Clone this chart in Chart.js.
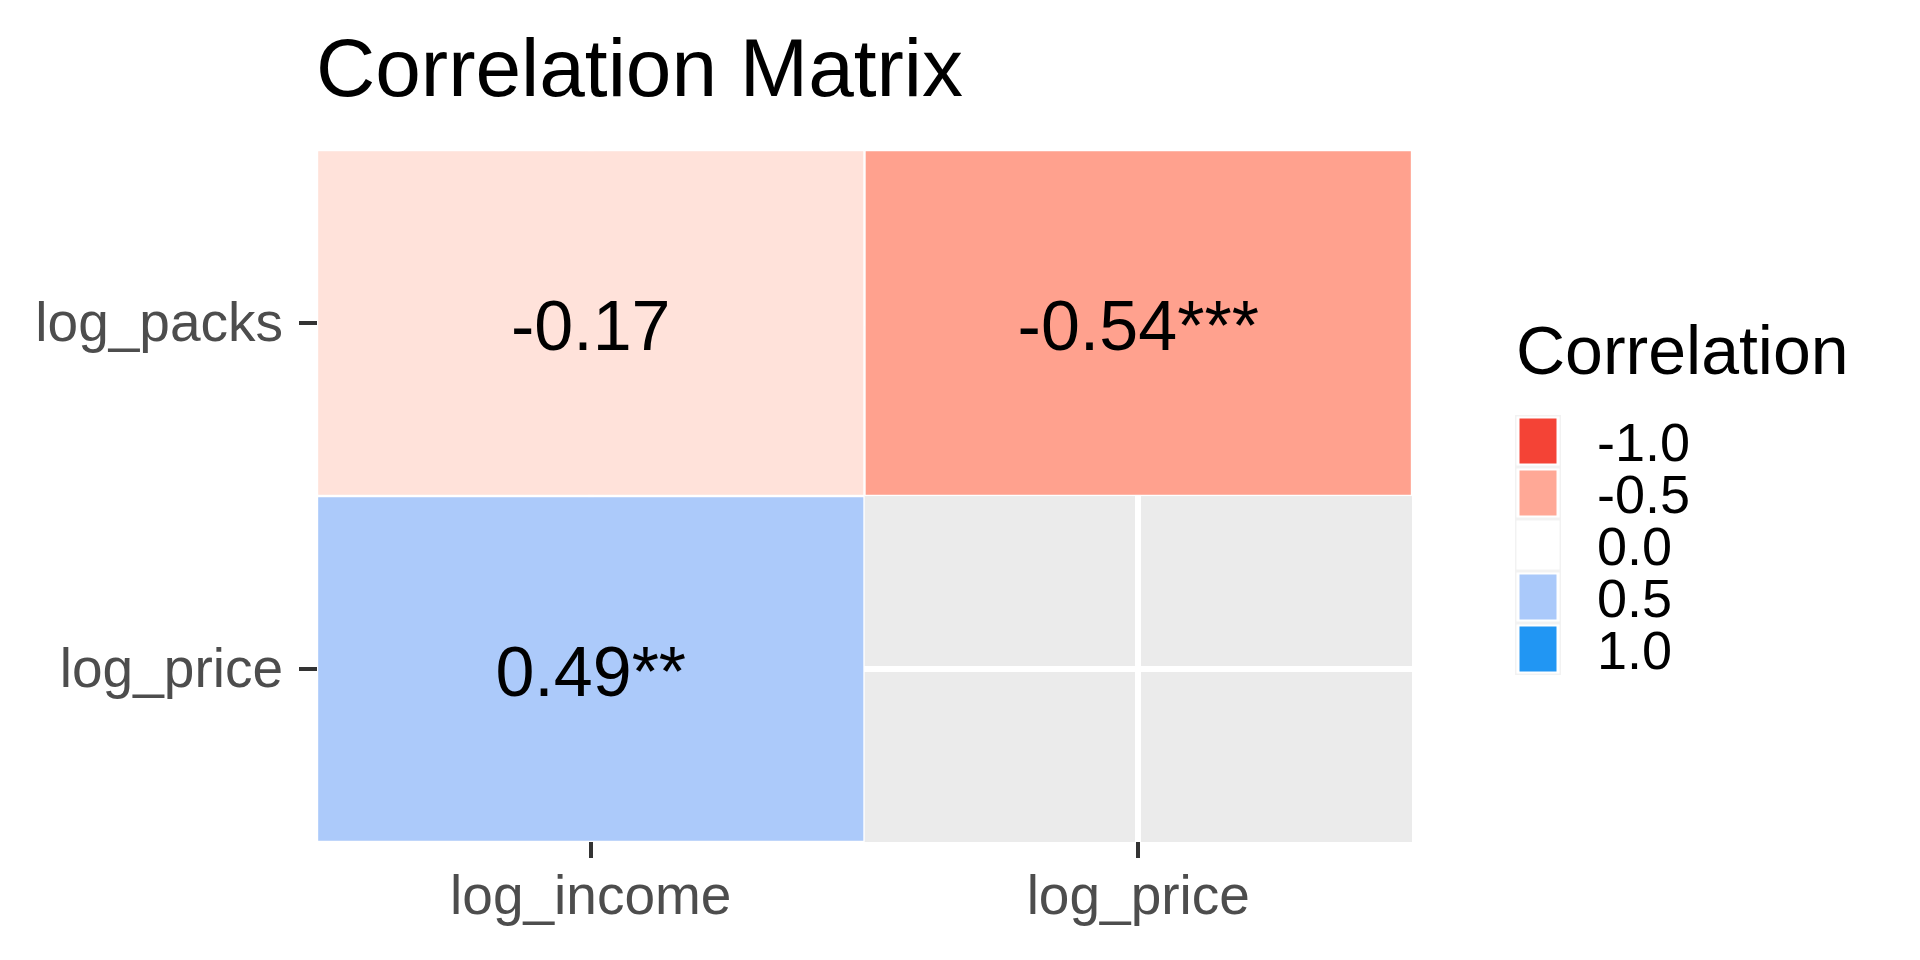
<!DOCTYPE html>
<html>
<head>
<meta charset="utf-8">
<title>Correlation Matrix</title>
<script src="https://cdn.jsdelivr.net/npm/chart.js@4.4.1/dist/chart.umd.min.js"></script>
<style>
  html, body { margin: 0; padding: 0; background: #ffffff; }
  #wrap { width: 1920px; height: 960px; position: relative; }
</style>
</head>
<body>
<div id="wrap"><canvas id="myChart"></canvas></div>
<script>
// columns of the matrix, rows from top to bottom
var colNames = ['log_income', 'log_price'];
var rowNames = ['log_packs', 'log_price'];
// correlation values per row (null = empty cell)
var corrByRow = [
  [-0.17, -0.54],
  [0.49, null]
];
var starsByRow = [
  ['', '***'],
  ['**', '']
];
var legendBreaks = [-1.0, -0.5, 0.0, 0.5, 1.0];

var lowColor = '#F44336';
var midColor = '#FFFFFF';
var highColor = '#2196F3';
var FONT = '"Liberation Sans", Arial, sans-serif';

// --- colour scale, interpolated in Lab like ggplot's gradient2 ---
function hexToRgb(h) {
  return [parseInt(h.slice(1, 3), 16), parseInt(h.slice(3, 5), 16), parseInt(h.slice(5, 7), 16)];
}
function toLin(c) {
  c = c / 255;
  return c <= 0.04045 ? c / 12.92 : Math.pow((c + 0.055) / 1.055, 2.4);
}
function fromLin(c) {
  c = c <= 0.0031308 ? 12.92 * c : 1.055 * Math.pow(c, 1 / 2.4) - 0.055;
  return Math.round(Math.max(0, Math.min(1, c)) * 255);
}
function rgbToLab(rgb) {
  var r = toLin(rgb[0]), g = toLin(rgb[1]), b = toLin(rgb[2]);
  var x = (0.4124 * r + 0.3576 * g + 0.1805 * b) / 0.95047;
  var y = (0.2126 * r + 0.7152 * g + 0.0722 * b);
  var z = (0.0193 * r + 0.1192 * g + 0.9505 * b) / 1.08883;
  var f = function(t) { return t > 0.008856 ? Math.cbrt(t) : 7.787 * t + 16 / 116; };
  var fx = f(x), fy = f(y), fz = f(z);
  return [116 * fy - 16, 500 * (fx - fy), 200 * (fy - fz)];
}
function labToRgb(lab) {
  var fy = (lab[0] + 16) / 116, fx = fy + lab[1] / 500, fz = fy - lab[2] / 200;
  var finv = function(t) { var t3 = t * t * t; return t3 > 0.008856 ? t3 : (t - 16 / 116) / 7.787; };
  var x = finv(fx) * 0.95047, y = finv(fy), z = finv(fz) * 1.08883;
  var r = 3.2406 * x - 1.5372 * y - 0.4986 * z;
  var g = -0.9689 * x + 1.8758 * y + 0.0415 * z;
  var b = 0.0557 * x - 0.2040 * y + 1.0570 * z;
  return [fromLin(r), fromLin(g), fromLin(b)];
}
function fillFor(v) {
  var a = rgbToLab(hexToRgb(midColor));
  var b = rgbToLab(hexToRgb(v < 0 ? lowColor : highColor));
  var t = Math.min(1, Math.abs(v));
  var lab = [a[0] + (b[0] - a[0]) * t, a[1] + (b[1] - a[1]) * t, a[2] + (b[2] - a[2]) * t];
  var rgb = labToRgb(lab);
  return 'rgb(' + rgb[0] + ',' + rgb[1] + ',' + rgb[2] + ')';
}

// one dataset per row, each bar spans its row band on the y scale
var datasets = [];
for (var r = 0; r < rowNames.length; r++) {
  var lo = rowNames.length - 1 - r;
  var cells = [], fills = [], texts = [];
  for (var c = 0; c < colNames.length; c++) {
    var v = corrByRow[r][c];
    cells.push(v === null ? null : [lo, lo + 1]);
    fills.push(v === null ? 'rgba(0,0,0,0)' : fillFor(v));
    texts.push(v === null ? '' : v.toFixed(2) + starsByRow[r][c]);
  }
  datasets.push({
    label: rowNames[r],
    data: cells,
    cellTexts: texts,
    backgroundColor: fills,
    borderColor: '#ffffff',
    borderWidth: 1.5,
    borderSkipped: false,
    grouped: false,
    barPercentage: 1.0,
    categoryPercentage: 1.0
  });
}

var panelPlugin = {
  id: 'panel',
  beforeDraw: function(chart) {
    var ctx = chart.ctx, a = chart.chartArea;
    ctx.save();
    ctx.fillStyle = '#ffffff';
    ctx.fillRect(0, 0, chart.width, chart.height);
    ctx.fillStyle = '#EBEBEB';
    ctx.fillRect(a.left, a.top, a.right - a.left, a.bottom - a.top);
    ctx.restore();
  }
};

var cellTextPlugin = {
  id: 'cellText',
  afterDatasetsDraw: function(chart) {
    var ctx = chart.ctx;
    ctx.save();
    ctx.font = '70px ' + FONT;
    ctx.fillStyle = '#000000';
    ctx.textAlign = 'center';
    ctx.textBaseline = 'alphabetic';
    chart.data.datasets.forEach(function(ds, i) {
      chart.getDatasetMeta(i).data.forEach(function(bar, j) {
        if (!ds.cellTexts[j]) return;
        var p = bar.getProps(['x', 'y', 'base'], true);
        var cy = (p.y + p.base) / 2;
        ctx.fillText(ds.cellTexts[j], p.x, cy + 27);
      });
    });
    ctx.restore();
  }
};

var titleLegendPlugin = {
  id: 'titleLegend',
  afterDraw: function(chart) {
    var ctx = chart.ctx;
    ctx.save();
    ctx.fillStyle = '#000000';
    ctx.textAlign = 'left';
    ctx.textBaseline = 'alphabetic';
    ctx.font = '82px ' + FONT;
    ctx.fillText('Correlation Matrix', 316, 96);

    // colour legend
    ctx.font = '68px ' + FONT;
    ctx.fillText('Correlation', 1516, 374);
    var kx = 1515, ky = 415, kw = 46, kh = 52;
    ctx.font = '54px ' + FONT;
    for (var i = 0; i < legendBreaks.length; i++) {
      var y = ky + i * kh;
      ctx.fillStyle = '#F2F2F2';
      ctx.fillRect(kx, y, kw, kh);
      ctx.fillStyle = '#ffffff';
      ctx.fillRect(kx + 1.5, y + 1.5, kw - 3, kh - 3);
      ctx.fillStyle = fillFor(legendBreaks[i]);
      ctx.fillRect(kx + 4.5, y + 3.5, kw - 9, kh - 7);
      ctx.fillStyle = '#000000';
      ctx.fillText(legendBreaks[i].toFixed(1), 1597, y + kh / 2 + 20);
    }
    ctx.restore();
  }
};

var ctx = document.getElementById('myChart').getContext('2d');
var myChart = new Chart(ctx, {
  type: 'bar',
  data: { labels: colNames, datasets: datasets },
  options: {
    responsive: true,
    maintainAspectRatio: false,
    animation: false,
    layout: { padding: { top: 150, right: 508, bottom: 0, left: 0 } },
    plugins: {
      legend: { display: false },
      title: { display: false },
      tooltip: { enabled: false }
    },
    scales: {
      x: {
        type: 'category',
        offset: true,
        grid: { offset: false, color: '#ffffff', lineWidth: 6, tickColor: '#333333', tickWidth: 4, tickLength: 16 },
        border: { display: false },
        ticks: { color: '#4D4D4D', font: { family: FONT, size: 55 }, padding: 8, maxRotation: 0 },
        afterFit: function(scale) { scale.height = 118; }
      },
      y: {
        type: 'linear',
        min: 0,
        max: rowNames.length,
        grid: { color: '#ffffff', lineWidth: 6, tickColor: '#333333', tickWidth: 4, tickLength: 18 },
        border: { display: false },
        afterBuildTicks: function(scale) {
          scale.ticks = rowNames.map(function(name, i) { return { value: rowNames.length - i - 0.5 }; });
        },
        ticks: {
          color: '#4D4D4D',
          font: { family: FONT, size: 55 },
          padding: 16,
          labelOffset: 3,
          callback: function(value) {
            return rowNames[rowNames.length - 1 - Math.floor(value)];
          }
        },
        afterFit: function(scale) { scale.width = 317; }
      }
    }
  },
  plugins: [panelPlugin, cellTextPlugin, titleLegendPlugin]
});
</script>
</body>
</html>
